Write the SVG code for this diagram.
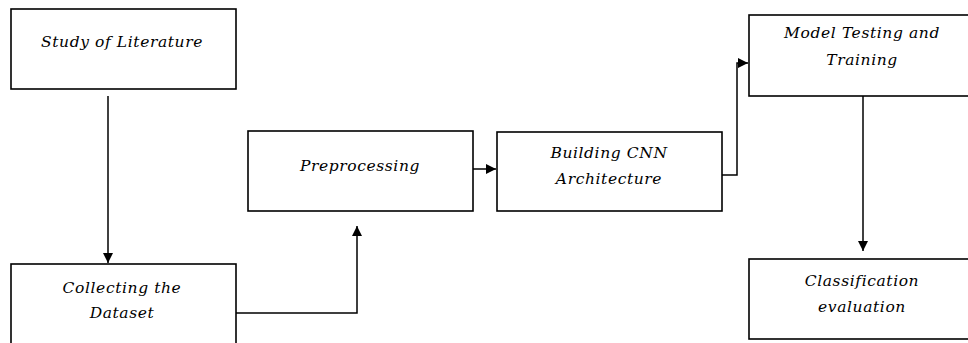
<svg xmlns="http://www.w3.org/2000/svg" width="968" height="343" viewBox="0 0 968 343">
<style>
.box{fill:#fff;stroke:#000;stroke-width:1.6}
.t{font-family:"DejaVu Serif","Liberation Serif",serif;font-style:italic;font-size:15.5px;letter-spacing:0.6px;fill:#000;text-anchor:middle}
.c{fill:none;stroke:#000;stroke-width:1.5}
</style>
<defs>
<marker id="ah" viewBox="0 0 10 10" refX="10" refY="5" markerWidth="11" markerHeight="10" markerUnits="userSpaceOnUse" orient="auto">
<path d="M0,0 L10,5 L0,10 z" fill="#000"/>
</marker>
</defs>
<rect width="968" height="343" fill="#fff"/>
<g id="n1"><rect class="box" x="11" y="9" width="225" height="80"/><text class="t" x="122" y="47">Study of Literature</text></g>
<g id="n2"><rect class="box" x="11" y="264" width="225" height="90"/><text class="t" x="122" y="293">Collecting the</text><text class="t" x="122" y="318">Dataset</text></g>
<g id="n3"><rect class="box" x="248" y="131" width="225" height="80"/><text class="t" x="360" y="171">Preprocessing</text></g>
<g id="n4"><rect class="box" x="497" y="132" width="225" height="79"/><text class="t" x="609" y="158">Building CNN</text><text class="t" x="609" y="184">Architecture</text></g>
<g id="n5"><rect class="box" x="749" y="15" width="240" height="81"/><text class="t" x="862" y="38">Model Testing and</text><text class="t" x="862" y="65">Training</text></g>
<g id="n6"><rect class="box" x="749" y="259" width="240" height="80"/><text class="t" x="862" y="286">Classification</text><text class="t" x="862" y="312">evaluation</text></g>
<g id="connectors">
<path class="c" d="M108,96 V263" marker-end="url(#ah)"/>
<path class="c" d="M236,313 H357 V226" marker-end="url(#ah)"/>
<path class="c" d="M473,169 H496" marker-end="url(#ah)"/>
<path class="c" d="M722,175 H737 V63 H748" marker-end="url(#ah)"/>
<path class="c" d="M863,96 V251" marker-end="url(#ah)"/>
</g>
</svg>
